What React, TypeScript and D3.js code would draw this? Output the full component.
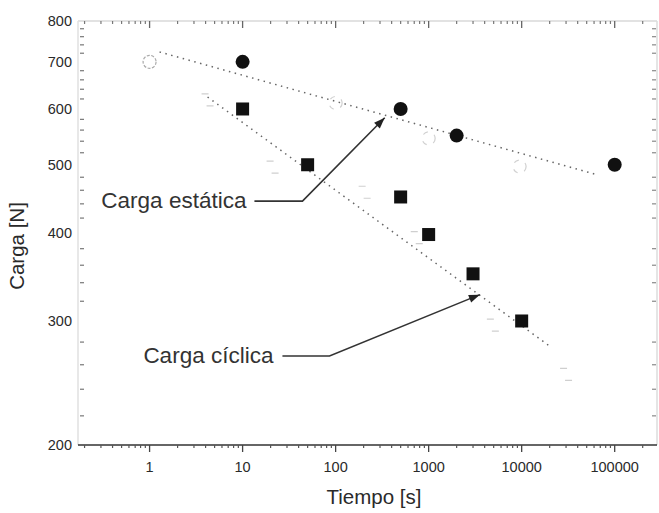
import React from "react";
import * as d3 from "d3";

// ---- data ----
const staticTime = [10, 500, 2000, 100000];
const staticLoad = [700, 600, 550, 500];
const cyclicTime = [10, 50, 500, 1000, 3000, 10000];
const cyclicLoad = [600, 500, 450, 398, 350, 300];
// faint hollow markers (scanned ghost points)
const ghostCircleTime = [1, 100, 1000, 9500];
const ghostCircleLoad = [700, 612, 545, 497];
const ghostSquareTime = [4.2, 21, 205, 745, 4900, 30000];
const ghostSquareLoad = [618, 496, 457, 394, 296, 252];
// fitted trend lines (end points)
const staticFitTime = [1.28, 61000];
const staticFitLoad = [723, 485];
const cyclicFitTime = [4.2, 21000];
const cyclicFitLoad = [624, 275];
// axis ticks
const xTickValues = [1, 10, 100, 1000, 10000, 100000];
const xTickLabels = ["1", "10", "100", "1000", "10000", "100000"];
const yTickValues = [200, 300, 400, 500, 600, 700, 800];
const yTickLabels = ["200", "300", "400", "500", "600", "700", "800"];
// annotations: [line start, elbow, tip] in data coords
const annStaticPath = [[13.4, 444], [44, 444], [337, 583]];
const annCyclicPath = [[26.8, 267.5], [86, 267.5], [3550, 327]];
const annStaticLabel = "Carga estática";
const annCyclicLabel = "Carga cíclica";

const W = 659, H = 513;
const L = 78, R = 657, T = 21, B = 445;

export default function App() {
  const x = d3.scaleLog().domain([0.17, 285000]).range([L, R]);
  const y = d3.scaleLog().domain([200, 800]).range([B, T]);

  const xMinor: number[] = [];
  for (let e = -1; e <= 5; e++) {
    for (let m = 2; m <= 9; m++) {
      const v = m * Math.pow(10, e);
      if (x(v) > L + 2 && x(v) < R - 2) xMinor.push(v);
    }
  }
  const yMinor: number[] = [];
  for (let v = 220; v < 800; v += 20) {
    if (v % 100 !== 0) yMinor.push(v);
  }

  const fitLine = d3
    .line<[number, number]>()
    .x((d) => x(d[0]))
    .y((d) => y(d[1]));
  const staticFit = staticFitTime.map((t, i) => [t, staticFitLoad[i]] as [number, number]);
  const cyclicFit = cyclicFitTime.map((t, i) => [t, cyclicFitLoad[i]] as [number, number]);

  const font = "'Liberation Sans', Arial, Helvetica, sans-serif";
  const textCol = "#2a2a2a";

  const arrowHead = (p: number[][]) => {
    const a = p[p.length - 2], b = p[p.length - 1];
    const x1 = x(a[0]), y1 = y(a[1]), x2 = x(b[0]), y2 = y(b[1]);
    const ang = Math.atan2(y2 - y1, x2 - x1);
    const len = 11, wid = 4;
    const bx = x2 - len * Math.cos(ang), by = y2 - len * Math.sin(ang);
    const px = -Math.sin(ang) * wid, py = Math.cos(ang) * wid;
    return `M${x2},${y2}L${bx + px},${by + py}L${bx - px},${by - py}Z`;
  };
  const annLine = d3
    .line<number[]>()
    .x((d) => x(d[0]))
    .y((d) => y(d[1]));

  return (
    <svg
      width={W}
      height={H}
      style={{ position: "absolute", left: 0, top: 0, background: "#fff" }}
      fontFamily={font}
    >
      <rect x={0} y={0} width={W} height={H} fill="#fff" />
      {/* frame */}
      <line x1={L} x2={R} y1={T} y2={T} stroke="#d8d8d8" strokeWidth={1.5} />
      <line x1={R} x2={R} y1={T} y2={B} stroke="#dcdcdc" strokeWidth={1.5} />
      <line x1={L} x2={L} y1={T} y2={B} stroke="#e0e0e0" strokeWidth={1.5} />
      <line x1={L} x2={R} y1={B} y2={B} stroke="#333" strokeWidth={1.6} />

      {/* x ticks */}
      {xTickValues.map((v) => (
        <g key={"xt" + v}>
          <line x1={x(v)} x2={x(v)} y1={B} y2={B + 7} stroke="#444" strokeWidth={1.3} />
          <line x1={x(v)} x2={x(v)} y1={T} y2={T + 7} stroke="#666" strokeWidth={1.3} />
        </g>
      ))}
      {xMinor.map((v) => (
        <g key={"xm" + v}>
          <line x1={x(v)} x2={x(v)} y1={B} y2={B + 3} stroke="#555" strokeWidth={1.2} />
          <line x1={x(v)} x2={x(v)} y1={T} y2={T + 3} stroke="#777" strokeWidth={1.2} />
        </g>
      ))}
      {xTickValues.map((v, i) => (
        <text
          key={"xl" + v}
          x={x(v)}
          y={B + 27}
          textAnchor="middle"
          fontSize={14.5}
          fill={textCol}
        >
          {xTickLabels[i]}
        </text>
      ))}

      {/* y ticks */}
      {yMinor.map((v) => (
        <g key={"ym" + v}>
          <line x1={L + 2} x2={L + 6} y1={y(v)} y2={y(v)} stroke="#777" strokeWidth={1.2} />
          <line x1={R - 5} x2={R - 1} y1={y(v)} y2={y(v)} stroke="#888" strokeWidth={1.2} />
        </g>
      ))}
      {yTickValues.map((v, i) => (
        <text
          key={"yl" + v}
          x={L - 6}
          y={y(v) + 5}
          textAnchor="end"
          fontSize={14.5}
          fill={textCol}
        >
          {yTickLabels[i]}
        </text>
      ))}

      {/* fit lines */}
      <path d={fitLine(staticFit) || ""} fill="none" stroke="#666" strokeWidth={1.5} strokeDasharray="1.5 4.5" />
      <path d={fitLine(cyclicFit) || ""} fill="none" stroke="#666" strokeWidth={1.5} strokeDasharray="1.5 4.5" />

      {/* ghost markers */}
      {ghostCircleTime.map((t, i) => (
        <circle
          key={"gc" + i}
          cx={x(t)}
          cy={y(ghostCircleLoad[i])}
          r={6.5}
          fill="none"
          stroke={i === 0 ? "#aaa" : "#d0d0d0"}
          strokeWidth={1.2}
          strokeDasharray={i === 0 ? "3 1.5" : "5 7"}
        />
      ))}
      {ghostSquareTime.map((t, i) => (
        <rect
          key={"gs" + i}
          x={x(t) - 6}
          y={y(ghostSquareLoad[i]) - 6}
          width={12}
          height={12}
          fill="none"
          stroke="#cfcfcf"
          strokeWidth={1.2}
          strokeDasharray="7 17"
        />
      ))}

      {/* data */}
      {staticTime.map((t, i) => (
        <circle key={"s" + i} cx={x(t)} cy={y(staticLoad[i])} r={7} fill="#111" />
      ))}
      {cyclicTime.map((t, i) => (
        <rect
          key={"c" + i}
          x={x(t) - 6.5}
          y={y(cyclicLoad[i]) - 6.5}
          width={13}
          height={13}
          fill="#111"
        />
      ))}

      {/* annotations */}
      <path d={annLine(annStaticPath) || ""} fill="none" stroke="#333" strokeWidth={1.6} />
      <path d={arrowHead(annStaticPath)} fill="#222" />
      <path d={annLine(annCyclicPath) || ""} fill="none" stroke="#333" strokeWidth={1.6} />
      <path d={arrowHead(annCyclicPath)} fill="#222" />
      <text
        x={x(annStaticPath[0][0]) - 8}
        y={y(annStaticPath[0][1]) + 7}
        textAnchor="end"
        fontSize={22.5}
        fill="#333"
      >
        {annStaticLabel}
      </text>
      <text
        x={x(annCyclicPath[0][0]) - 9}
        y={y(annCyclicPath[0][1]) + 7}
        textAnchor="end"
        fontSize={22.5}
        fill="#333"
      >
        {annCyclicLabel}
      </text>

      {/* axis titles */}
      <text x={374} y={504} textAnchor="middle" fontSize={20.5} fill={textCol}>
        Tiempo [s]
      </text>
      <text
        transform={`translate(24,246) rotate(-90)`}
        textAnchor="middle"
        fontSize={20.5}
        fill={textCol}
      >
        Carga [N]
      </text>
    </svg>
  );
}
